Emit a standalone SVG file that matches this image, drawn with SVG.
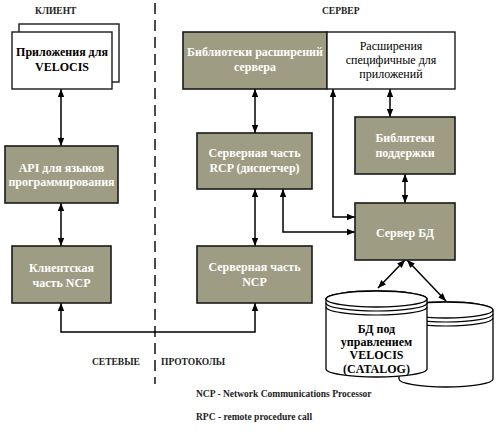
<svg xmlns="http://www.w3.org/2000/svg" width="500" height="436" viewBox="0 0 500 436">
<defs>
<marker id="ah" viewBox="0 0 10 8" refX="10" refY="4" markerWidth="8" markerHeight="6.5" markerUnits="userSpaceOnUse" orient="auto-start-reverse">
<path d="M0,0 L10,4 L0,8 Z" fill="#000"/>
</marker>
<style>
.box{fill:#9e9c82;stroke:#1a1a1a;stroke-width:1.6}
.wbox{fill:#fff;stroke:#1a1a1a;stroke-width:1.4}
.bt{font-family:"Liberation Serif",serif;font-size:12px;font-weight:bold;fill:#fff;text-anchor:middle}
.kt{font-family:"Liberation Serif",serif;font-size:12px;fill:#000;text-anchor:middle}
.kb{font-family:"Liberation Serif",serif;font-size:12px;font-weight:bold;fill:#000;text-anchor:middle}
.lab{font-family:"Liberation Serif",serif;font-size:9.5px;font-weight:bold;fill:#222}
.c{fill:none;stroke:#000;stroke-width:1.5;marker-start:url(#ah);marker-end:url(#ah)}
.cyl{fill:#fff;stroke:#000;stroke-width:1.3}
.ring{fill:none;stroke:#000;stroke-width:1.2}
</style>
</defs>
<rect width="500" height="436" fill="#fff"/>
<line x1="155" y1="3" x2="155" y2="384" stroke="#000" stroke-width="1.4" stroke-dasharray="11,6"/>
<text class="lab" x="35" y="14">КЛИЕНТ</text>
<text class="lab" x="322" y="14">СЕРВЕР</text>
<text class="lab" x="92" y="365">СЕТЕВЫЕ</text>
<text class="lab" x="161" y="365">ПРОТОКОЛЫ</text>
<text class="lab" x="196" y="397">NCP - Network Communications Processor</text>
<text class="lab" x="196" y="420">RPC - remote procedure call</text>

<g id="connectors">
<line class="c" x1="61" y1="89" x2="61" y2="146"/>
<line class="c" x1="61" y1="203" x2="61" y2="246"/>
<path class="c" d="M61,303 V332 H255 V303"/>
<line class="c" x1="255" y1="89" x2="255" y2="133"/>
<line class="c" x1="255" y1="189" x2="255" y2="246"/>
<path class="c" d="M333,89 V217 H355"/>
<path class="c" d="M283,189 V232 H355"/>
<line class="c" x1="390" y1="89" x2="390" y2="117"/>
<line class="c" x1="405" y1="174" x2="405" y2="203"/>
<line class="c" x1="405" y1="260" x2="378" y2="288"/>
<line class="c" x1="407" y1="260" x2="446" y2="301"/>
</g>

<g id="apps">
<rect class="wbox" x="19" y="24" width="100" height="58"/>
<rect class="wbox" x="12" y="32" width="100" height="57"/>
<text class="kb" x="62" y="56">Приложения для</text>
<text class="kb" x="62" y="71">VELOCIS</text>
</g>
<g id="api">
<rect class="box" x="5" y="146" width="113" height="57"/>
<text class="bt" x="61.5" y="172">API для языков</text>
<text class="bt" x="61.5" y="186">программирования</text>
</g>
<g id="client-ncp">
<rect class="box" x="12" y="246" width="99" height="57"/>
<text class="bt" x="61.5" y="272">Клиентская</text>
<text class="bt" x="61.5" y="287">часть NCP</text>
</g>
<g id="server-ext">
<rect class="box" x="183" y="32" width="144" height="57"/>
<text class="bt" x="255" y="56">Библиотеки расширений</text>
<text class="bt" x="255" y="71">сервера</text>
</g>
<g id="app-ext">
<rect class="wbox" x="327" y="32" width="128" height="57"/>
<text class="kt" x="391" y="50">Расширения</text>
<text class="kt" x="391" y="64">специфичные для</text>
<text class="kt" x="391" y="78">приложений</text>
</g>
<g id="rcp">
<rect class="box" x="197" y="133" width="115" height="56"/>
<text class="bt" x="254.5" y="157">Серверная часть</text>
<text class="bt" x="254.5" y="172">RCP (диспетчер)</text>
</g>
<g id="server-ncp">
<rect class="box" x="197" y="246" width="115" height="57"/>
<text class="bt" x="254.5" y="271">Серверная часть</text>
<text class="bt" x="254.5" y="286">NCP</text>
</g>
<g id="support-libs">
<rect class="box" x="355" y="117" width="100" height="57"/>
<text class="bt" x="405" y="142">Библитеки</text>
<text class="bt" x="405" y="157">поддержки</text>
</g>
<g id="db-server">
<rect class="box" x="355" y="203" width="100" height="57"/>
<text class="bt" x="405" y="237">Сервер БД</text>
</g>
<g id="db">
<path class="cyl" d="M399,310 A47,8 0 0 1 493,310 V379 A47,8 0 0 1 399,379 Z"/>
<ellipse class="cyl" cx="446" cy="310" rx="47" ry="8"/>
<path class="ring" d="M399,314 A47,8 0 0 0 493,314"/>
<path class="ring" d="M399,318 A47,8 0 0 0 493,318"/>
<path class="cyl" d="M326,299 A50.5,8 0 0 1 427,299 V369 A50.5,8 0 0 1 326,369 Z"/>
<ellipse class="cyl" cx="376.5" cy="299" rx="50.5" ry="8"/>
<path class="ring" d="M326,303 A50.5,8 0 0 0 427,303"/>
<path class="ring" d="M326,307 A50.5,8 0 0 0 427,307"/>
<text class="kb" x="376.5" y="333">БД под</text>
<text class="kb" x="376.5" y="346">управлением</text>
<text class="kb" x="376.5" y="359">VELOCIS</text>
<text class="kb" x="376.5" y="372.5">(CATALOG)</text>
</g>
</svg>
